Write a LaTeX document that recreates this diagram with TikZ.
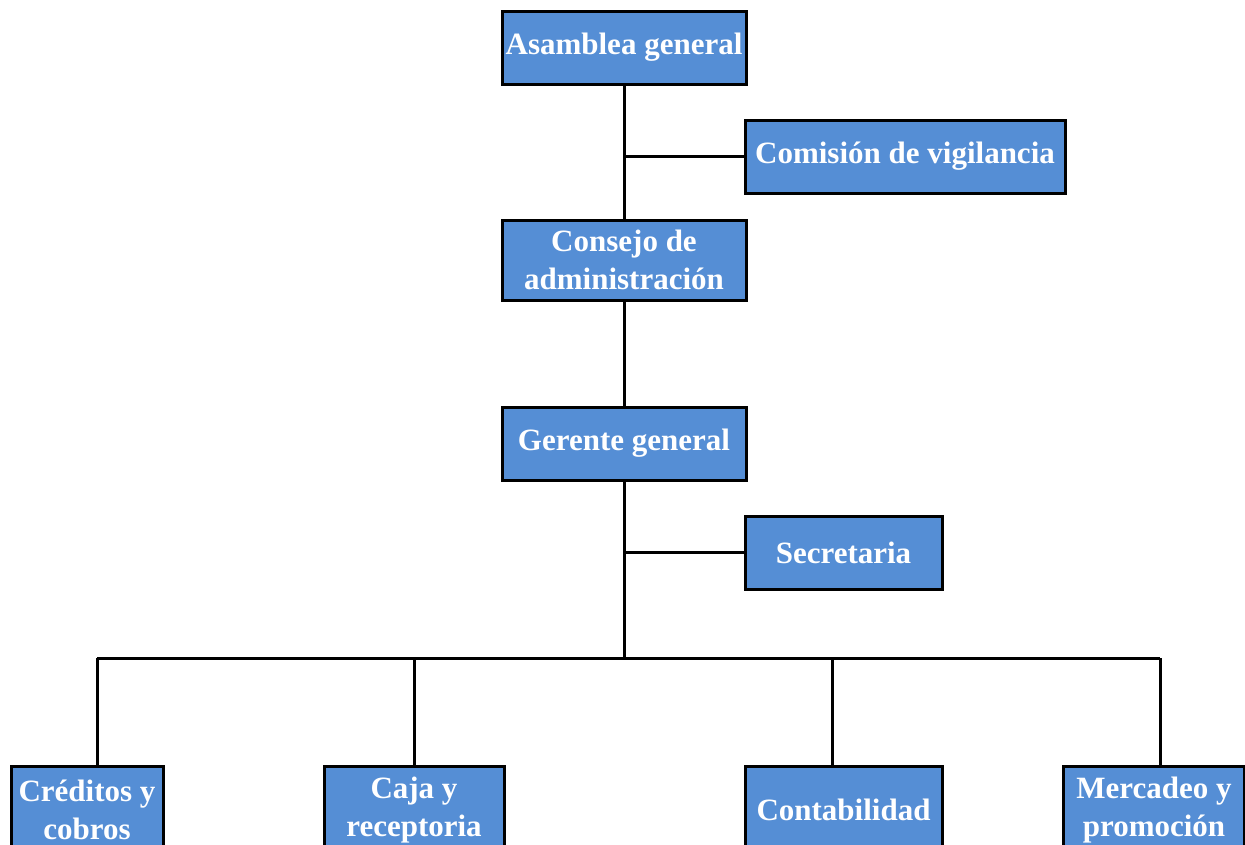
\documentclass[tikz,border=0pt]{standalone}
\usepackage{fontspec}
\setmainfont{Liberation Serif}
\definecolor{boxblue}{HTML}{558ED5}
\tikzset{
  unit/.style={draw=black, line width=3pt, fill=boxblue, text=white, inner sep=0pt,
    align=center, font=\fontsize{31}{38}\selectfont\bfseries},
  link/.style={line width=3pt}
}
\begin{document}
\begin{tikzpicture}[x=1pt, y=-1pt]
 \useasboundingbox (0,0) rectangle (1245,844);
 \clip (0,0) rectangle (1245,844);

 % upper levels
 \node[unit, minimum width=244pt, minimum height=73pt] (asam) at (624,47.5) {Asamblea general};
 \node[unit, minimum width=320pt, minimum height=73pt] (comi) at (905,156.5) {Comisión de vigilancia};
 \node[unit, minimum width=244pt, minimum height=80pt] (cons) at (624,260) {Consejo de\\administración};
 \node[unit, minimum width=244pt, minimum height=73pt] (gere) at (624,443.5) {Gerente general};
 \node[unit, minimum width=197pt, minimum height=73pt] (secr) at (843.5,552.5) {Secretaria};

 % departments
 \node[unit, minimum width=152pt, minimum height=88pt] (cred) at (87,810) {Créditos y\\cobros};
 \node[unit, minimum width=180pt, minimum height=88pt] (caja) at (414,810) {Caja y\\receptoria};
 \node[unit, minimum width=197pt, minimum height=88pt] (cont) at (843.5,810) {Contabilidad};
 \node[unit, minimum width=181pt, minimum height=88pt] (merc) at (1154,810) {Mercadeo y\\promoción};

 \coordinate (bus) at (624,658);
 \coordinate (busl) at (97,658);
 \coordinate (busr) at (1160,658);

 \draw[link] (asam) -- (cons);
 \draw[link] (cons) -- (gere);
 \draw[link] (gere) -- (bus);
 \draw[link] (comi.west) -- (comi.west -| asam);
 \draw[link] (secr.west) -- (secr.west -| gere);
 \draw[link] (busl) -- (busr);

 \draw[link] ([xshift=10pt]cred.north) -- ([xshift=10pt]cred.north |- bus);
 \draw[link] (caja.north) -- (caja.north |- bus);
 \draw[link] ([xshift=-11pt]cont.north) -- ([xshift=-11pt]cont.north |- bus);
 \draw[link] ([xshift=6pt]merc.north) -- ([xshift=6pt]merc.north |- bus);
\end{tikzpicture}
\end{document}
